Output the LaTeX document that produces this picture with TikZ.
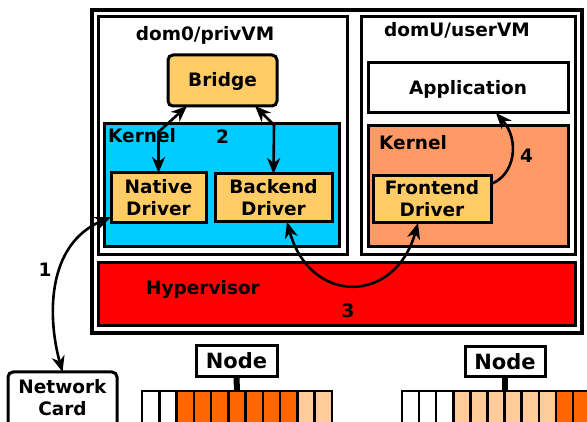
\documentclass[tikz,border=0pt]{standalone}
\usepackage{fontspec}
\setmainfont{DejaVu Sans}
\usetikzlibrary{arrows.meta}
\definecolor{kblue}{HTML}{00CCFF}
\definecolor{ylw}{HTML}{FFCC66}
\definecolor{korange}{HTML}{FF9966}
\definecolor{dorange}{HTML}{FF6600}
\definecolor{lorange}{HTML}{FFCC99}
\begin{document}
\begin{tikzpicture}[x=1pt,y=-1pt,
  font=\fontsize{18.5}{22}\selectfont\bfseries,
  box/.style={draw=black, line width=3pt, inner sep=0pt, outer sep=0pt},
  one/.style={text height=13pt, text depth=0pt, align=center},
  two/.style={text height=35pt, text depth=0pt, align=center},
  conn/.style={line width=2.6pt, -{Stealth[length=16pt,width=13pt,inset=5pt]}},
  conntwo/.style={line width=2.6pt, {Stealth[length=16pt,width=13pt,inset=5pt]}-{Stealth[length=16pt,width=13pt,inset=5pt]}},
  lbl/.style={anchor=base, inner sep=0pt},
  cell/.style={draw=black, line width=2.5pt},
  nodebox/.style={box, fill=white, font=\fontsize{21}{24}\selectfont\bfseries, text height=15pt, text depth=0pt},
]
\useasboundingbox (0,0) rectangle (587,422);
\clip (0,0) rectangle (587,422);
\fill[white] (0,0) rectangle (587,422);

% containers
\node[box, line width=3.2pt, minimum width=490pt, minimum height=323pt] (outer) at (337,171.5) {};
\node[box, minimum width=249pt, minimum height=238pt] (dom0) at (222.5,136) {};
\node[box, minimum width=214pt, minimum height=238pt] (domU) at (468,136) {};
\node[box, fill=red, minimum width=477pt, minimum height=63pt] (hyp) at (336.5,294.5) {};
\node[box, fill=kblue, minimum width=235pt, minimum height=123pt] (kblue) at (221.5,185.5) {};
\node[box, fill=korange, minimum width=200pt, minimum height=121pt] (korange) at (468,186.5) {};

% inner boxes
\node[box, fill=ylw, rounded corners=5pt, minimum width=109pt, minimum height=51pt, one] (bridge) at (222.5,80.5) {Bridge};
\node[box, fill=ylw, minimum width=95pt, minimum height=50pt, two] (native) at (158.5,198) {Native\\Driver};
\node[box, fill=ylw, minimum width=117pt, minimum height=48pt, two] (backend) at (273.5,198) {Backend\\Driver};
\node[box, fill=white, minimum width=200pt, minimum height=50pt, one] (app) at (468,88) {Application};
\node[box, fill=ylw, minimum width=118pt, minimum height=47pt, two] (frontend) at (432,199.5) {Frontend\\Driver};
\node[box, fill=white, rounded corners=5pt, minimum width=109pt, minimum height=68pt, text height=35pt, text depth=17pt, align=center] (netcard) at (62.5,406) {Network\\Card};

% labels
\node[lbl] (l0) at (205,41) {dom0/privVM};
\node[lbl] (lU) at (457,37) {domU/userVM};
\node[lbl, anchor=base west] (lk1) at (108,143) {Kernel};
\node[lbl, anchor=base west] (lk2) at (379,150) {Kernel};
\node[lbl] (lh) at (203,295) {Hypervisor};
\node[lbl] (n1) at (45,277) {1};
\node[lbl] (n2) at (222.5,144) {2};
\node[lbl] (n3) at (348,318) {3};
\node[lbl] (n4) at (526.5,163) {4};

% connectors
\draw[conntwo] ([xshift=19pt]bridge.south west) -- (158.5,132) -- (native.north);
\draw[conntwo] ([xshift=-22pt]bridge.south east) -- (274,125) -- (backend.north);
\draw[conntwo] ([yshift=-19pt]native.west) .. controls (45,245) and (48,320) .. (netcard.north);
\draw[conntwo] ([xshift=13.5pt]backend.south) .. controls (310,305) and (395,305) .. ([xshift=-14pt]frontend.south);
\draw[conn] ([yshift=15.5pt]frontend.east) .. controls (515,175) and (520,140) .. ([xshift=28pt]app.south);

% node bars
\node[nodebox, minimum width=81pt, minimum height=31pt] (node1) at (236.5,361.5) {Node};
\node[nodebox, minimum width=80pt, minimum height=30pt] (node2) at (505,362) {Node};
\coordinate (bar1) at (237,391);
\coordinate (bar2) at (505,391);
\draw[line width=6pt] (node1.south) -- (bar1);
\draw[line width=6pt] (node2.south) -- (bar2);
\foreach \i/\c in {0/white,1/white,2/dorange,3/dorange,4/dorange,5/dorange,6/dorange,7/dorange,8/dorange,9/lorange,10/lorange}{
  \draw[cell, fill=\c] (142+\i*17.27,391) rectangle (142+\i*17.27+17.27,432);
}
\foreach \i/\c in {0/white,1/white,2/white,3/lorange,4/lorange,5/lorange,6/lorange,7/lorange,8/lorange,9/dorange,10/dorange}{
  \draw[cell, fill=\c] (402+\i*17.1,391) rectangle (402+\i*17.1+17.1,432);
}
\end{tikzpicture}
\end{document}
